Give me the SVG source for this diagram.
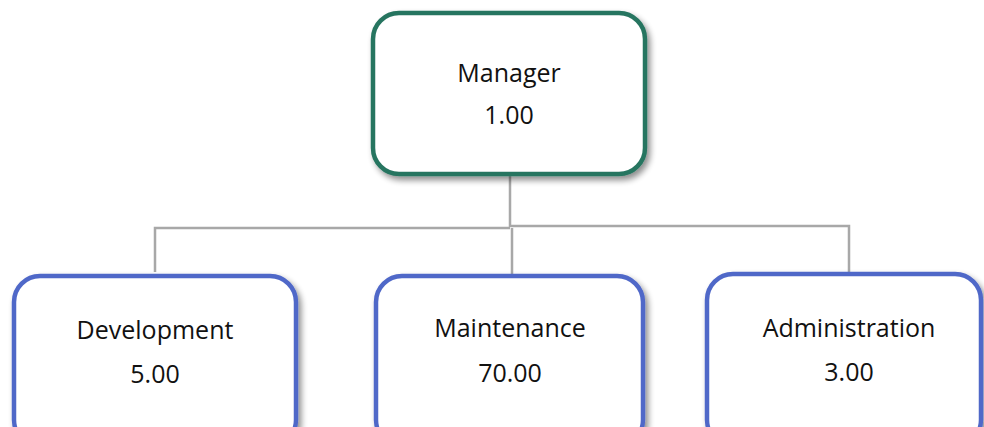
<svg xmlns="http://www.w3.org/2000/svg" width="984" height="427" viewBox="0 0 984 427">
<defs>
<filter id="sh" x="-10%" y="-10%" width="125%" height="130%">
<feGaussianBlur in="SourceAlpha" stdDeviation="3"/>
<feOffset dx="3" dy="4" result="b"/>
<feComponentTransfer><feFuncA type="linear" slope="0.45"/></feComponentTransfer>
<feMerge><feMergeNode/><feMergeNode in="SourceGraphic"/></feMerge>
</filter>
</defs>
<style>
.top{fill:#fff;stroke:#287460;stroke-width:4.5}
.sub{fill:#fff;stroke:#5068c8;stroke-width:4.5}
.t{font-family:"Open Sans","Noto Sans",sans-serif;font-size:25px;fill:#111;text-anchor:middle}
.c{fill:none;stroke:#a8a8a8;stroke-width:2.5}
</style>
<g id="connectors">
<path class="c" d="M510 176 V227 M155 272 V228 H510 M512 228 V276 M510 226 H849 V273"/>
</g>
<g id="manager">
<rect class="top" x="373" y="13" width="272" height="161" rx="26" filter="url(#sh)"/>
<text class="t" x="509" y="82">Manager</text>
<text class="t" x="509" y="124">1.00</text>
</g>
<g id="development">
<rect class="sub" x="14" y="276" width="282" height="170" rx="26" filter="url(#sh)"/>
<text class="t" x="155" y="339">Development</text>
<text class="t" x="155" y="383">5.00</text>
</g>
<g id="maintenance">
<rect class="sub" x="376" y="276" width="267" height="170" rx="26" filter="url(#sh)"/>
<text class="t" x="510" y="337">Maintenance</text>
<text class="t" x="510" y="382">70.00</text>
</g>
<g id="administration">
<rect class="sub" x="707" y="274" width="274" height="172" rx="26" filter="url(#sh)"/>
<text class="t" x="849" y="337">Administration</text>
<text class="t" x="849" y="381">3.00</text>
</g>
</svg>
